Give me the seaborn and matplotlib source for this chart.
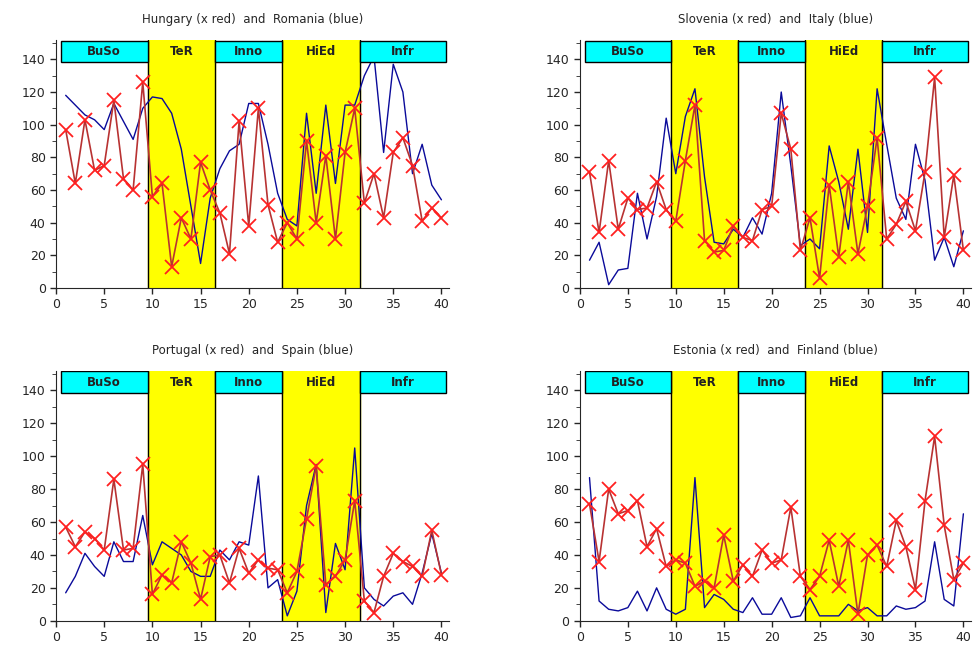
import pandas as pd
import seaborn as sns
import matplotlib.pyplot as plt
from matplotlib.patches import Rectangle
from matplotlib.ticker import MultipleLocator

x = list(range(1, 41))

hungary = [97, 64, 103, 72, 75, 115, 67, 60, 126, 56, 64, 13, 43, 30, 77, 60, 46, 21, 102, 38,
           110, 51, 28, 40, 30, 90, 40, 81, 30, 83, 110, 52, 70, 43, 83, 92, 75, 41, 49, 43]
romania = [118, 112, 106, 103, 97, 113, 102, 91, 110, 117, 116, 107, 85, 50, 15, 55, 73, 84, 88, 113,
           113, 88, 58, 42, 38, 107, 58, 112, 64, 112, 112, 130, 142, 83, 137, 120, 70, 88, 63, 54]

slovenia = [71, 34, 78, 36, 55, 48, 49, 65, 48, 41, 78, 112, 29, 22, 23, 38, 31, 29, 48, 50,
            107, 85, 23, 43, 6, 63, 19, 65, 21, 50, 92, 30, 39, 53, 35, 71, 129, 31, 69, 23]
italy = [17, 28, 2, 11, 12, 58, 30, 56, 104, 70, 105, 122, 68, 28, 27, 36, 31, 43, 33, 58,
         120, 75, 26, 30, 24, 87, 65, 36, 85, 34, 122, 88, 55, 42, 88, 66, 17, 31, 13, 35]

portugal = [57, 45, 54, 50, 43, 86, 43, 44, 95, 16, 28, 23, 48, 35, 13, 39, 40, 23, 44, 29,
            37, 32, 31, 17, 30, 62, 94, 22, 27, 37, 73, 12, 5, 27, 41, 36, 33, 27, 55, 28]
spain = [17, 27, 41, 33, 27, 48, 36, 36, 64, 34, 48, 44, 40, 30, 27, 27, 43, 37, 48, 46,
         88, 20, 25, 3, 18, 70, 95, 5, 47, 31, 105, 20, 13, 9, 15, 17, 10, 29, 53, 29]

estonia = [71, 36, 80, 65, 67, 73, 45, 56, 33, 37, 35, 21, 24, 20, 52, 24, 34, 27, 43, 35,
           37, 69, 27, 19, 27, 49, 21, 49, 4, 40, 46, 33, 61, 45, 19, 73, 112, 58, 25, 35]
finland = [87, 12, 7, 6, 8, 18, 6, 20, 7, 4, 7, 87, 8, 16, 13, 7, 5, 14, 4, 4,
           14, 2, 3, 14, 3, 3, 3, 10, 6, 8, 3, 3, 9, 7, 8, 12, 48, 13, 9, 65]

titles = ["Hungary (x red)  and  Romania (blue)",
          "Slovenia (x red)  and  Italy (blue)",
          "Portugal (x red)  and  Spain (blue)",
          "Estonia (x red)  and  Finland (blue)"]
pairs = [(hungary, romania), (slovenia, italy), (portugal, spain), (estonia, finland)]

sections = ['BuSo', 'TeR', 'Inno', 'HiEd', 'Infr']
edges = [0.5, 9.5, 16.5, 23.5, 31.5, 40.5]

sns.set_style('ticks')
fig = plt.figure(figsize=(9.73, 6.48), dpi=100)

positions = [[0.0576, 0.5556, 0.404, 0.383],
             [0.596, 0.5556, 0.402, 0.383],
             [0.0576, 0.042, 0.404, 0.386],
             [0.596, 0.042, 0.402, 0.386]]

for pos, title, (red, blue) in zip(positions, titles, pairs):
    ax = fig.add_axes(pos)

    # section bands and label boxes
    for i, name in enumerate(sections):
        lo, hi = edges[i], edges[i + 1]
        if i % 2 == 1:
            ax.axvspan(lo, hi, color='yellow', zorder=0)
            ax.axvline(lo, color='black', lw=1, zorder=1)
            ax.axvline(hi, color='black', lw=1, zorder=1)
        else:
            ax.add_patch(Rectangle((lo, 138.5), hi - lo, 13, facecolor='cyan',
                                   edgecolor='black', lw=1, zorder=4))
        ax.text((lo + hi) / 2, 145, name, ha='center', va='center',
                fontsize=8.5, fontweight='bold', color='#222222', zorder=5)

    sns.lineplot(x=x, y=blue, ax=ax, color='#0a0a9a', lw=1, zorder=2)
    sns.lineplot(x=x, y=red, ax=ax, color='#b83232', lw=1.2, marker='x',
                 markersize=10, markeredgecolor='#ff2020', mew=1.3, zorder=3)

    ax.set_xlim(0, 40.8)
    ax.set_ylim(0, 152)
    ax.xaxis.set_major_locator(MultipleLocator(5))
    ax.yaxis.set_major_locator(MultipleLocator(20))
    ax.yaxis.set_minor_locator(MultipleLocator(10))
    ax.tick_params(axis='both', direction='out', labelsize=9, length=4, width=1)
    ax.tick_params(axis='y', which='minor', direction='out', length=3)
    ax.spines['top'].set_visible(False)
    ax.spines['right'].set_visible(False)
    ax.set_xlabel('')
    ax.set_ylabel('')
    ax.set_title(title, fontsize=8.5, pad=12)

plt.savefig('out.png', dpi=100)
